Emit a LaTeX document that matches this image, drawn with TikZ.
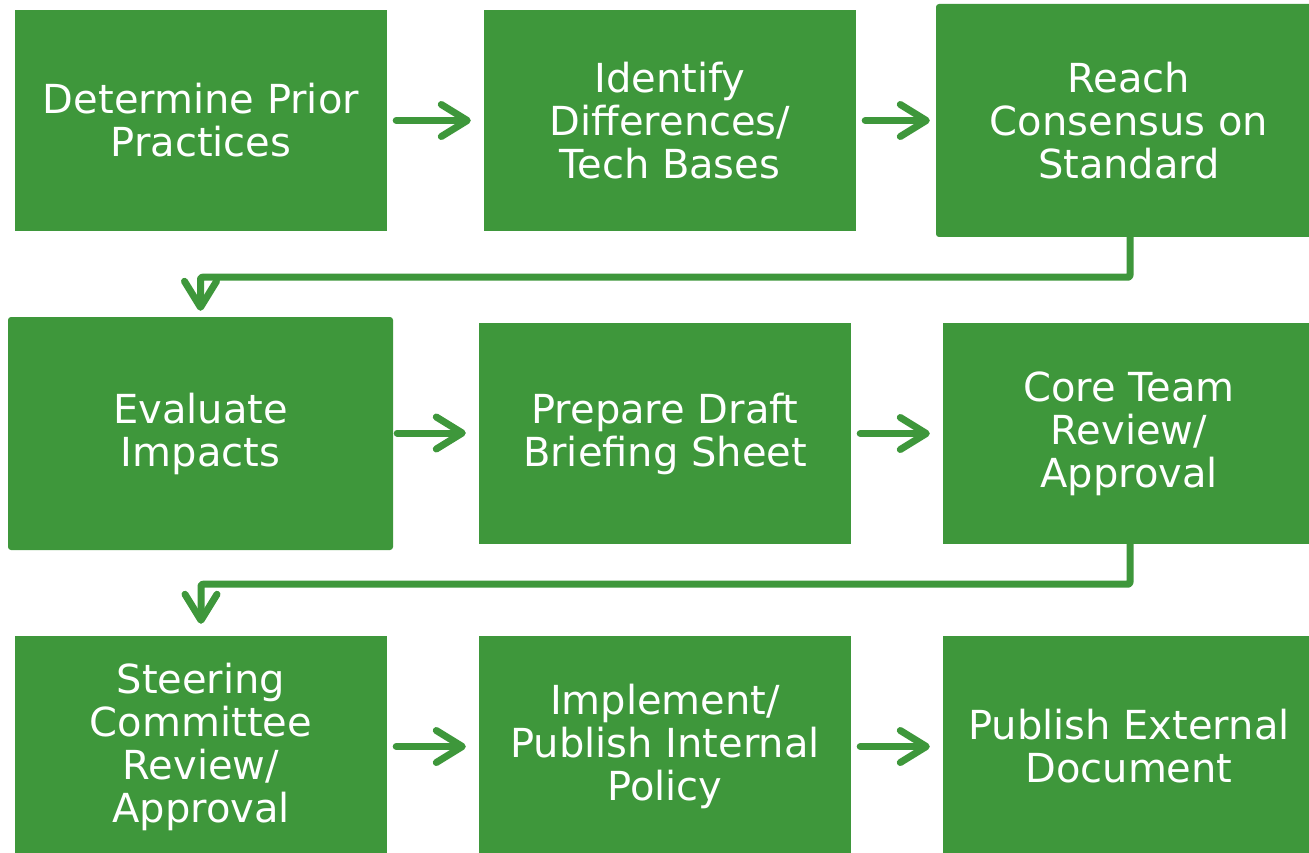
\documentclass[tikz,border=0pt]{standalone}
\usepackage{fontspec}
\setmainfont{DejaVu Sans}
\usetikzlibrary{arrows.meta}
\definecolor{gr}{RGB}{62,151,59}
\tikzset{
  box/.style={fill=gr, text=white, align=center, inner sep=0pt,
    font=\fontsize{40}{43}\selectfont},
  flow/.style={draw=gr, line width=7pt, line cap=round, line join=round,
    -{Straight Barb[length=26pt,width=32pt,line cap=round,line join=round]}},
}
\begin{document}
\begin{tikzpicture}[x=1pt,y=-1pt]
\useasboundingbox (0,0) rectangle (1309,853);
\node[box, minimum width=372pt, minimum height=221pt] (A) at (201,120.5) {Determine Prior\\Practices};
\node[box, minimum width=372pt, minimum height=221pt] (B) at (670,120.5) {Identify\\Differences/\\Tech Bases};
\node[box, minimum width=386pt, minimum height=233pt, rounded corners=3pt] (C) at (1129,120.5) {Reach\\Consensus on\\Standard};
\node[box, minimum width=385pt, minimum height=233pt, rounded corners=3pt] (D) at (200.5,433.5) {Evaluate\\Impacts};
\node[box, minimum width=372pt, minimum height=221pt] (E) at (665,433.5) {Prepare Draft\\Briefing Sheet};
\node[box, minimum width=372pt, minimum height=221pt] (F) at (1129,433.5) {Core Team\\Review/\\Approval};
\node[box, minimum width=372pt, minimum height=221pt] (G) at (201,746.5) {Steering\\Committee\\Review/\\Approval};
\node[box, minimum width=372pt, minimum height=221pt] (H) at (665,746.5) {Implement/\\Publish Internal\\Policy};
\node[box, minimum width=372pt, minimum height=221pt] (I) at (1129,746.5) {Publish External\\Document};
\draw[flow, shorten <=9pt, shorten >=13pt] (A.east) -- (B.west);
\draw[flow, shorten <=9pt, shorten >=6pt] (B.east) -- (C.west);
\draw[flow, shorten <=4pt, shorten >=13pt] ([yshift=0.5pt]D.east) -- ([yshift=0.5pt]E.west);
\draw[flow, shorten <=9pt, shorten >=13pt] (E.east) -- (F.west);
\draw[flow, shorten <=9pt, shorten >=13pt] (G.east) -- (H.west);
\draw[flow, shorten <=9pt, shorten >=13pt] (H.east) -- (I.west);
\draw[flow, shorten >=6pt, rounded corners=2pt] ([xshift=1pt]C.south) -- ++(0,40) -| (D.north);
\draw[flow, shorten >=12pt, rounded corners=2pt] ([xshift=1pt]F.south) -- ++(0,40) -| (G.north);
\end{tikzpicture}
\end{document}
